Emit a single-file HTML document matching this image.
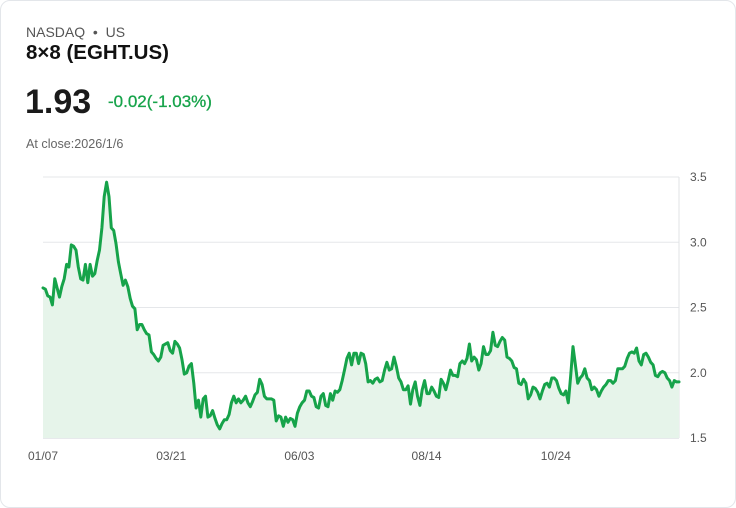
<!DOCTYPE html>
<html><head><meta charset="utf-8"><style>
body{margin:0;background:#fff;font-family:"Liberation Sans",sans-serif;}
.card{position:absolute;left:0;top:0;width:734px;height:506px;border:1px solid #e3e6ea;border-radius:10px;background:#fff;}
.t{position:absolute;white-space:nowrap;}
</style></head><body>
<div class="card">
<div class="t" style="left:25px;top:23px;font-size:14px;color:#555;">NASDAQ &nbsp;•&nbsp; US</div>
<div class="t" style="left:25px;top:40px;font-size:20.5px;font-weight:bold;color:#111;">8×8 (EGHT.US)</div>
<div class="t" style="left:24px;top:82px;font-size:34px;font-weight:bold;color:#1a1a1a;">1.93</div>
<div class="t" style="left:107px;top:91px;font-size:17px;color:#16a34a;-webkit-text-stroke:0.3px #16a34a;">-0.02(-1.03%)</div>
<div class="t" style="left:25px;top:136px;font-size:12.6px;color:#666;">At close:2026/1/6</div>
<svg id="chart" width="736" height="508" style="position:absolute;left:-1px;top:-1px;"></svg>
</div>
<script>
const values=[2.65,2.64,2.59,2.58,2.52,2.72,2.65,2.58,2.66,2.72,2.83,2.81,2.98,2.97,2.94,2.81,2.72,2.71,2.83,2.69,2.83,2.74,2.76,2.86,2.94,3.11,3.35,3.46,3.35,3.11,3.09,2.99,2.85,2.76,2.67,2.71,2.66,2.57,2.51,2.49,2.33,2.37,2.37,2.33,2.30,2.29,2.16,2.14,2.11,2.09,2.12,2.21,2.22,2.23,2.17,2.15,2.24,2.22,2.19,2.10,1.99,2.00,2.05,2.07,1.92,1.73,1.79,1.66,1.80,1.82,1.66,1.67,1.71,1.65,1.60,1.57,1.61,1.64,1.64,1.68,1.77,1.82,1.77,1.80,1.77,1.79,1.82,1.77,1.74,1.78,1.83,1.85,1.95,1.91,1.82,1.80,1.80,1.80,1.79,1.63,1.67,1.66,1.59,1.66,1.62,1.65,1.64,1.59,1.69,1.74,1.77,1.79,1.86,1.86,1.82,1.81,1.74,1.73,1.82,1.84,1.75,1.74,1.84,1.79,1.86,1.85,1.87,1.94,2.02,2.11,2.15,2.06,2.15,
2.15,2.07,2.15,2.14,2.07,1.93,1.94,1.92,1.95,1.96,1.93,1.94,2.02,2.08,2.02,2.03,2.12,2.05,1.96,1.93,1.87,1.87,1.90,1.76,1.87,1.93,1.82,1.75,1.87,1.94,1.84,1.84,1.89,1.86,1.82,1.81,1.95,1.92,1.87,1.94,2.02,1.98,1.98,1.97,2.07,2.09,2.07,2.11,2.22,2.09,2.12,2.10,2.02,2.07,2.20,2.14,2.14,2.17,2.31,2.21,2.20,2.24,2.27,2.25,2.12,2.11,2.09,2.04,2.03,1.92,1.91,1.95,1.92,1.80,1.83,1.89,1.88,1.85,1.80,1.86,1.91,1.92,1.89,1.96,1.96,1.94,1.88,1.84,1.83,1.86,1.77,1.97,2.20,2.06,1.92,1.96,1.98,2.03,1.96,1.94,1.87,1.89,1.87,1.82,1.86,1.89,1.91,1.94,1.94,1.92,1.94,2.03,2.03,2.03,2.05,2.11,2.15,2.16,2.15,2.19,2.09,2.06,2.14,2.15,2.12,2.08,2.06,1.98,1.97,2.00,2.01,2.00,1.96,1.94,1.89,1.94,1.93,1.93];
const yTicks=[1.5,2.0,2.5,3.0,3.5];
const yTickLabels=["1.5","2.0","2.5","3.0","3.5"];
const xTickLabels=["01/07","03/21","06/03","08/14","10/24"];
const xTickFrac=[0,0.2016,0.4031,0.6031,0.8063];

const NS="http://www.w3.org/2000/svg";
const svg=document.getElementById('chart');
const X0=43,X1=679,Y0=438,Y1=177,VMIN=1.5,VMAX=3.5;
const xs=i=>X0+(X1-X0)*i/(values.length-1);
const ys=v=>Y0-(v-VMIN)/(VMAX-VMIN)*(Y0-Y1);
function mk(tag,attrs){const e=document.createElementNS(NS,tag);for(const k in attrs)e.setAttribute(k,attrs[k]);svg.appendChild(e);return e;}
yTicks.forEach((v,i)=>{
  const l=mk('line',{x1:X0,x2:X1,y1:ys(v),y2:ys(v),stroke:i===0?'#cfd3d8':'#e5e7ea','stroke-width':1});
  
  
  const t=mk('text',{x:690,y:ys(v)+4,'font-size':12,fill:'#555','font-family':'Liberation Sans, sans-serif'});
  t.textContent=yTickLabels[i];
  
  
});
const ax=mk('line',{x1:X1,x2:X1,y1:Y1,y2:Y0,stroke:'#e0e3e6','stroke-width':1});


xTickLabels.forEach((s,i)=>{
  const t=mk('text',{x:X0+(X1-X0)*xTickFrac[i],y:460,'font-size':12,fill:'#555','text-anchor':'middle','font-family':'Liberation Sans, sans-serif'});
  t.textContent=s;
  
  
});
let d='';values.forEach((v,i)=>{d+=(i?'L':'M')+xs(i).toFixed(1)+','+ys(v).toFixed(1);});
const area=mk('path',{d:d+'L'+xs(values.length-1)+','+Y0+'L'+X0+','+Y0+'Z',fill:'#e6f4ea'});


const line=mk('path',{d:d,fill:'none',stroke:'#16a34a','stroke-width':3,'stroke-linejoin':'round','stroke-linecap':'round'});


</script>
</body></html>
